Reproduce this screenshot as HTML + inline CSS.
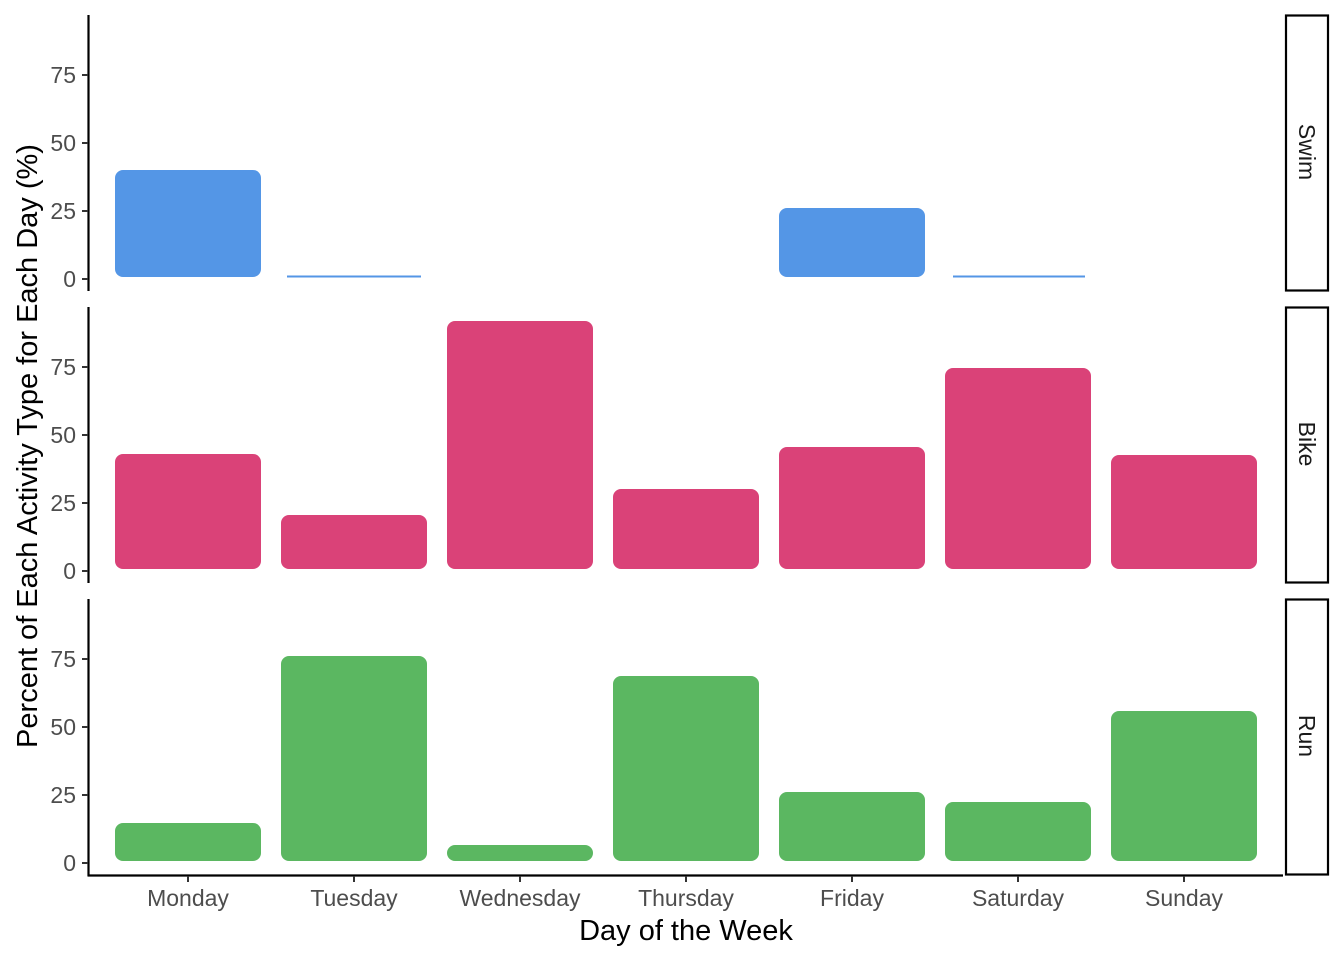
<!DOCTYPE html>
<html><head><meta charset="utf-8"><style>html,body{margin:0;padding:0;background:#fff}svg{display:block}</style></head>
<body>
<svg width="1344" height="960" viewBox="0 0 1344 960" xmlns="http://www.w3.org/2000/svg" font-family="Liberation Sans, Arial, sans-serif">
<rect width="1344" height="960" fill="#fff"/>
<g fill="#5496E6">
<rect x="115" y="170" width="146" height="107" rx="8"/>
<rect x="287" y="275.5" width="134" height="2" />
<rect x="779" y="208" width="146" height="69" rx="8"/>
<rect x="953" y="275.5" width="132" height="2" />
</g>
<g fill="#DA4278">
<rect x="115" y="454" width="146" height="115" rx="8"/>
<rect x="281" y="515" width="146" height="54" rx="8"/>
<rect x="447" y="321" width="146" height="248" rx="8"/>
<rect x="613" y="489" width="146" height="80" rx="8"/>
<rect x="779" y="447" width="146" height="122" rx="8"/>
<rect x="945" y="368" width="146" height="201" rx="8"/>
<rect x="1111" y="455" width="146" height="114" rx="8"/>
</g>
<g fill="#5BB761">
<rect x="115" y="823" width="146" height="38" rx="8"/>
<rect x="281" y="656" width="146" height="205" rx="8"/>
<rect x="447" y="845" width="146" height="16" rx="8"/>
<rect x="613" y="676" width="146" height="185" rx="8"/>
<rect x="779" y="792" width="146" height="69" rx="8"/>
<rect x="945" y="802" width="146" height="59" rx="8"/>
<rect x="1111" y="711" width="146" height="150" rx="8"/>
</g>
<g stroke="#000" stroke-width="2.2" fill="none">
<line x1="88.5" y1="15" x2="88.5" y2="291"/>
<line x1="88.5" y1="307" x2="88.5" y2="583"/>
<line x1="88.5" y1="599" x2="88.5" y2="876"/>
<line x1="87.5" y1="875.5" x2="1283" y2="875.5"/>
</g>
<g stroke="#333" stroke-width="2">
<line x1="82" y1="75" x2="88" y2="75"/><line x1="82" y1="143" x2="88" y2="143"/><line x1="82" y1="211" x2="88" y2="211"/><line x1="82" y1="279" x2="88" y2="279"/>
<line x1="82" y1="367" x2="88" y2="367"/><line x1="82" y1="435" x2="88" y2="435"/><line x1="82" y1="503" x2="88" y2="503"/><line x1="82" y1="571" x2="88" y2="571"/>
<line x1="82" y1="659" x2="88" y2="659"/><line x1="82" y1="727" x2="88" y2="727"/><line x1="82" y1="795" x2="88" y2="795"/><line x1="82" y1="863" x2="88" y2="863"/>
<line x1="188" y1="876" x2="188" y2="882"/><line x1="354" y1="876" x2="354" y2="882"/><line x1="520" y1="876" x2="520" y2="882"/><line x1="686" y1="876" x2="686" y2="882"/><line x1="852" y1="876" x2="852" y2="882"/><line x1="1018" y1="876" x2="1018" y2="882"/><line x1="1184" y1="876" x2="1184" y2="882"/>
</g>
<g font-size="23" fill="#4d4d4d" text-anchor="end">
<text x="76" y="83">75</text><text x="76" y="151">50</text><text x="76" y="219">25</text><text x="76" y="287">0</text>
<text x="76" y="375">75</text><text x="76" y="443">50</text><text x="76" y="511">25</text><text x="76" y="579">0</text>
<text x="76" y="667">75</text><text x="76" y="735">50</text><text x="76" y="803">25</text><text x="76" y="871">0</text>
</g>
<g font-size="23" fill="#4d4d4d" text-anchor="middle">
<text x="188" y="906">Monday</text><text x="354" y="906">Tuesday</text><text x="520" y="906">Wednesday</text><text x="686" y="906">Thursday</text><text x="852" y="906">Friday</text><text x="1018" y="906">Saturday</text><text x="1184" y="906">Sunday</text>
</g>
<text x="686" y="940" font-size="29" text-anchor="middle" fill="#000">Day of the Week</text>
<text transform="translate(37,446) rotate(-90)" font-size="29" text-anchor="middle" fill="#000">Percent of Each Activity Type for Each Day (%)</text>
<g fill="#fff" stroke="#000" stroke-width="2.2">
<rect x="1286" y="15.5" width="42" height="275"/>
<rect x="1286" y="307.5" width="42" height="275"/>
<rect x="1286" y="599.5" width="42" height="275"/>
</g>
<g font-size="23" fill="#1a1a1a" text-anchor="middle">
<text transform="translate(1299,152) rotate(90)">Swim</text>
<text transform="translate(1299,444) rotate(90)">Bike</text>
<text transform="translate(1299,736) rotate(90)">Run</text>
</g>
</svg>
</body></html>
